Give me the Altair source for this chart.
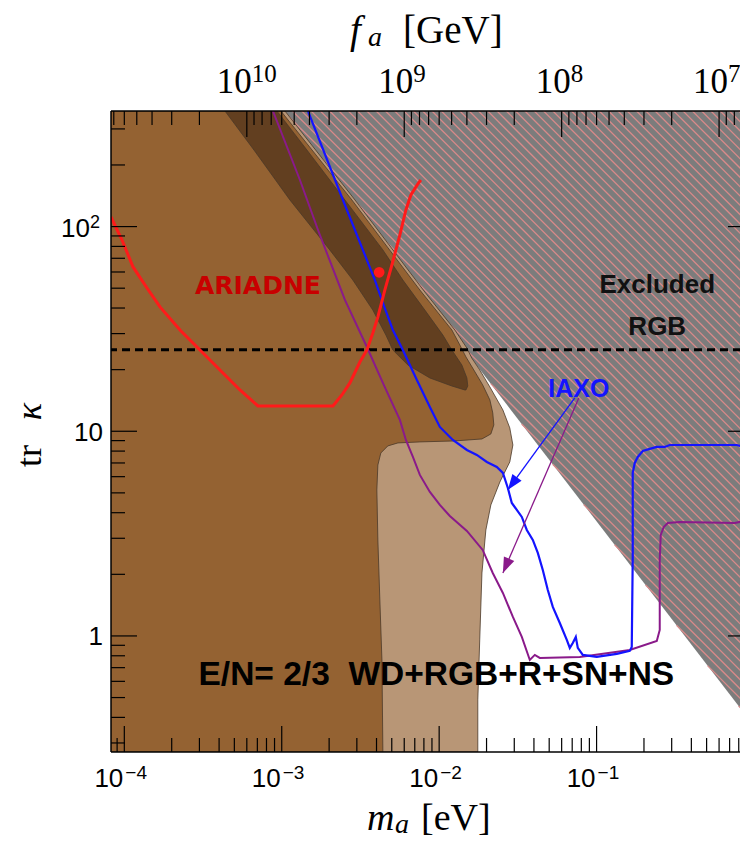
import altair as alt
import numpy as np
import pandas as pd

# ---------------- axis ranges ----------------
M_MIN, M_MAX = 8.23e-5, 1.0          # m_a [eV]
K_MIN, K_MAX = 0.271, 367.0          # tr kappa
FA_TIMES_MA = 6.0e6                  # f_a [GeV] * m_a [eV]
W, H = 643, 641

# ---------------- excluded (RGB) hatched region: tr k * m_a > HATCH_C ----------------
HATCH_C = 0.363

# ---------------- hint regions (E/N = 2/3) ----------------
light_k = [367, 134.9, 47.9, 31.25, 25.5, 22.8, 19.93, 16.46, 12.71, 10.38, 8.57, 7.08,
           5.65, 4.365, 3.295, 2.031, 0.956, 0.487, 0.271]
light_m = [1.048e-3, 2.92e-3, 8.11e-3, 1.258e-2, 1.50e-2, 1.61e-2, 1.81e-2, 2.10e-2, 2.54e-2,
           2.81e-2, 2.94e-2, 2.81e-2, 2.43e-2, 2.13e-2, 1.98e-2, 1.87e-2, 1.81e-2, 1.76e-2, 1.76e-2]

mid_k = [367, 134.9, 49.0, 31.25, 26.4, 23.07, 19.93, 16.84, 14.22, 12.29, 10.74, 9.70, 9.17,
         8.97, 8.87, 8.77, 8.48, 7.83, 6.84, 5.17, 2.944, 1.499, 0.763, 0.271]
mid_m = [9.88e-4, 2.79e-3, 7.54e-3, 1.204e-2, 1.353e-2, 1.48e-2, 1.66e-2, 1.89e-2, 2.10e-2,
         2.19e-2, 2.225e-2, 2.13e-2, 1.87e-2, 1.258e-2, 7.54e-3, 5.47e-3, 4.72e-3, 4.26e-3,
         4.08e-3, 4.02e-3, 4.08e-3, 4.20e-3, 4.33e-3, 4.39e-3]

dark_k = [367, 236.7, 134.9, 76.9, 54.8, 39.1, 29.5, 24.95, 21.08, 18.21, 16.64, 15.91]
dark_lo = [4.36e-4, 6.66e-4, 1.127e-3, 2.02e-3, 2.83e-3, 3.79e-3, 4.59e-3, 5.08e-3, 6.33e-3,
           8.73e-3, 1.204e-2, 1.456e-2]
dark_hi = [9.32e-4, 1.445e-3, 2.52e-3, 4.39e-3, 5.88e-3, 8.11e-3, 1.056e-2, 1.204e-2, 1.393e-2,
           1.50e-2, 1.52e-2, 1.48e-2]

# ---------------- curves ----------------
ariadne_m = [8.23e-5, 9.67e-5, 1.136e-4, 1.393e-4, 1.685e-4, 2.258e-4, 3.025e-4, 4.051e-4,
             5.428e-4, 7.063e-4, 2.114e-3, 2.411e-3, 2.710e-3, 3.137e-3, 3.475e-3, 3.79e-3,
             4.08e-3, 4.520e-3, 5.008e-3, 5.630e-3, 6.147e-3, 6.613e-3, 7.325e-3, 7.653e-3]
ariadne_k = [111.4, 86.0, 63.5, 50.1, 40.5, 31.25, 24.95, 19.93, 15.91, 13.29, 13.29, 15.04,
             17.22, 21.80, 24.95, 30.21, 36.17, 49.0, 64.9, 91.0, 120.5, 142.7, 161.5, 168.9]

iaxo_m = [1.467e-3, 2.52e-3, 3.906e-3, 4.39e-3, 5.08e-3, 5.88e-3, 7.22e-3, 8.73e-3, 1.010e-2,
          1.222e-2, 1.50e-2, 1.735e-2, 2.009e-2, 2.324e-2, 2.54e-2, 2.731e-2, 2.894e-2,
          3.113e-2, 3.350e-2, 3.604e-2, 3.935e-2, 4.233e-2, 4.553e-2, 4.900e-2, 5.271e-2,
          5.840e-2, 6.468e-2, 6.758e-2, 7.061e-2, 7.378e-2, 7.597e-2, 8.174e-2, 0.1003, 0.1344,
          0.1625, 0.1673, 0.1697, 0.1697, 0.1748, 0.1827, 0.1965, 0.2177, 0.2412, 0.2710,
          0.2917, 0.4521, 0.7767, 0.8730, 0.99]
iaxo_k = [367, 127.5, 54.8, 42.4, 31.25, 24.95, 17.81, 13.14, 10.50, 9.07, 8.10, 7.66, 7.08,
          6.69, 6.26, 5.28, 4.464, 4.126, 3.814, 3.295, 2.944, 2.544, 2.101, 1.677, 1.386,
          1.157, 0.956, 0.874, 0.924, 0.989, 0.874, 0.808, 0.790, 0.817, 0.845, 0.884, 2.432,
          6.26, 7.00, 7.49, 8.01, 8.20, 8.38, 8.38, 8.57, 8.57, 8.57, 8.38, 8.29]

iaxo2_m = [8.79e-4, 1.305e-3, 1.70e-3, 2.52e-3, 3.475e-3, 4.39e-3, 5.63e-3, 6.147e-3, 6.81e-3,
           7.54e-3, 8.73e-3, 1.010e-2, 1.169e-2, 1.50e-2, 1.89e-2, 2.19e-2, 2.54e-2, 2.94e-2,
           3.35e-2, 3.766e-2, 4.051e-2, 4.358e-2, 7.822e-2, 0.1625, 0.2412, 0.2519, 0.2519,
           0.2556, 0.2671, 0.2831, 0.3375, 0.7543, 0.873, 0.99]
iaxo2_k = [367, 168.9, 96.2, 43.8, 25.8, 17.22, 11.36, 9.07, 7.49, 6.12, 5.053, 4.365, 3.857,
           3.258, 2.631, 2.031, 1.622, 1.238, 0.989, 0.763, 0.808, 0.781, 0.790, 0.854, 0.945,
           1.070, 2.351, 3.114, 3.408, 3.565, 3.606, 3.565, 3.647, 3.606]

rgb_bound_k = 25.0
dot_m, dot_k = [4.159e-3], [59.8]

# arrows from the IAXO label
arrow_m0 = [7.27e-2, 7.71e-2]
arrow_k0 = [14.54, 14.54]
arrow_m1 = [2.731e-2, 2.54e-2]
arrow_k1 = [5.17, 2.031]
arrow_col = ["#1414ff", "#8a1a8a"]
arrow_ang = [216.0, 203.5]

# labels
NB = "\u00a0"
lab_text = ["ARIADNE", "Excluded", "RGB", "IAXO", "E/N=" + NB + "2/3" + NB + NB + "WD+RGB+R+SN+NS"]
lab_m = [7.06e-4, 0.2429, 0.2429, 7.71e-2, 9.60e-3]
lab_k = [51.0, 51.8, 32.3, 16.09, 0.645]

# ticks
x_major = [1e-4, 1e-3, 1e-2, 1e-1, 1.0]
x_minor = [j * 10.0 ** e for e in range(-5, 0) for j in range(2, 10)]
x_lab_exp = ["\u22124", "\u22123", "\u22122", "\u22121"]
y_major = [1.0, 10.0, 100.0]
y_minor = [j * 10.0 ** e for e in range(-1, 3) for j in range(2, 10)]
f_major = [1e10, 1e9, 1e8, 1e7]
f_minor = [j * 10.0 ** e for e in range(6, 11) for j in range(2, 10)]

# ---------------- helpers ----------------
XS = alt.Scale(type="log", domain=[M_MIN, M_MAX])
YS = alt.Scale(type="log", domain=[K_MIN, K_MAX])


def X(f="m"):
    return alt.X(f"{f}:Q", scale=XS, axis=None)


def Y(f="k"):
    return alt.Y(f"{f}:Q", scale=YS, axis=None)


def inside(vals, lo, hi):
    return [v for v in vals if lo <= v <= hi]


one = pd.DataFrame({"a": [0]})
layers = []

# gray excluded triangle
gray_df = pd.DataFrame({"m": [HATCH_C / 600.0, 2.0], "k": [600.0, HATCH_C / 2.0], "k2": [600.0, 600.0]})
layers.append(alt.Chart(gray_df).mark_area(color="#7c7c7c", clip=True).encode(
    x=X(), y=Y(), y2=alt.Y2("k2:Q")))

# hatch stripes (45 deg in screen space), clipped to the triangle
px_per_dec_x = W / (np.log10(M_MAX) - np.log10(M_MIN))
px_per_dec_y = H / (np.log10(K_MAX) - np.log10(K_MIN))
p = -px_per_dec_x / px_per_dec_y
Lc = np.log10(HATCH_C)
db = abs(p) * (9.3 / px_per_dec_x)
rows = []
for s, b in enumerate(np.arange(Lc + db * 0.5, np.log10(K_MAX) + 0.05, db)):
    L0 = (Lc - b) / (1 + p)
    L1 = 0.3
    rows.append({"s": s, "m": 10 ** L0, "k": 10 ** (b + p * L0)})
    rows.append({"s": s, "m": 10 ** L1, "k": 10 ** (b + p * L1)})
stripes = pd.DataFrame(rows)
layers.append(alt.Chart(stripes).mark_line(color="#d98a8a", strokeWidth=1.3, clip=True).encode(
    x=X(), y=Y(), detail="s:N"))

EDGE = "#4a3828"
light_df = pd.DataFrame({"k": light_k, "m0": [4e-5] * len(light_k), "m1": light_m})
layers.append(alt.Chart(light_df).mark_area(orient="horizontal", fill="#b89676", stroke=EDGE,
                                            strokeWidth=0.8, clip=True).encode(
    y=Y(), x=X("m0"), x2=alt.X2("m1:Q")))
mid_df = pd.DataFrame({"k": mid_k, "m0": [4e-5] * len(mid_k), "m1": mid_m})
layers.append(alt.Chart(mid_df).mark_area(orient="horizontal", fill="#946232", stroke=EDGE,
                                          strokeWidth=0.8, clip=True).encode(
    y=Y(), x=X("m0"), x2=alt.X2("m1:Q")))
dark_df = pd.DataFrame({"k": dark_k, "m0": dark_lo, "m1": dark_hi})
layers.append(alt.Chart(dark_df).mark_area(orient="horizontal", fill="#623f20", stroke=EDGE,
                                           strokeWidth=0.8, clip=True).encode(
    y=Y(), x=X("m0"), x2=alt.X2("m1:Q")))

# RGB bound dashed line
layers.append(alt.Chart(pd.DataFrame({"k": [rgb_bound_k]})).mark_rule(
    color="black", strokeWidth=3, strokeDash=[8, 5]).encode(y=Y()))


def curve(ms, ks, color, width):
    assert len(ms) == len(ks)
    d = pd.DataFrame({"m": ms, "k": ks, "i": range(len(ms))})
    return alt.Chart(d).mark_line(color=color, strokeWidth=width, clip=True).encode(
        x=X(), y=Y(), order="i:Q")


layers.append(curve(iaxo2_m, iaxo2_k, "#8a1a8a", 2.0))
layers.append(curve(iaxo_m, iaxo_k, "#1414ff", 2.2))
layers.append(curve(ariadne_m, ariadne_k, "#ff1a1a", 3.0))

arr_df = pd.DataFrame({"m0": arrow_m0, "k0": arrow_k0, "m1": arrow_m1, "k1": arrow_k1,
                       "c": arrow_col, "ang": arrow_ang})
layers.append(alt.Chart(arr_df).mark_rule(strokeWidth=1.3).encode(
    x=X("m0"), y=Y("k0"), x2=alt.X2("m1:Q"), y2=alt.Y2("k1:Q"), color=alt.Color("c:N", scale=None)))
layers.append(alt.Chart(arr_df).mark_point(shape="M0,0L0.4,1.1L-0.4,1.1Z", filled=True, size=800,
                                           opacity=1, strokeWidth=0).encode(
    x=X("m1"), y=Y("k1"), angle=alt.Angle("ang:Q", scale=None), color=alt.Color("c:N", scale=None)))

layers.append(alt.Chart(pd.DataFrame({"m": dot_m, "k": dot_k})).mark_circle(
    size=115, color="#ff1a1a", opacity=1).encode(x=X(), y=Y()))

# text labels
lab_font = ["DejaVu Sans", "Liberation Sans", "Liberation Sans", "Liberation Sans", "Liberation Sans"]
lab_size = [25, 26, 26, 25, 33.5]
lab_color = ["#c80000", "#111111", "#111111", "#1414ff", "#000000"]
for t, m, k, fnt, sz, col in zip(lab_text, lab_m, lab_k, lab_font, lab_size, lab_color):
    layers.append(alt.Chart(pd.DataFrame({"m": [m], "k": [k], "t": [t]})).mark_text(
        font=fnt, fontSize=sz, fontWeight="bold", color=col, align="center", baseline="middle").encode(
        x=X(), y=Y(), text="t:N"))

# ticks
TK = dict(color="black", strokeWidth=1.2)
xmaj = pd.DataFrame({"m": inside(x_major, M_MIN, M_MAX)})
xmin_ = pd.DataFrame({"m": inside(x_minor, M_MIN, M_MAX)})
fmaj = pd.DataFrame({"m": [FA_TIMES_MA / f for f in f_major]})
fmin_ = pd.DataFrame({"m": inside([FA_TIMES_MA / f for f in f_minor], M_MIN, M_MAX)})
ymaj = pd.DataFrame({"k": y_major})
ymin_ = pd.DataFrame({"k": inside(y_minor, K_MIN, K_MAX)})
layers += [
    alt.Chart(xmaj).mark_rule(**TK).encode(x=X(), y=alt.value(H), y2=alt.value(H - 26)),
    alt.Chart(xmin_).mark_rule(**TK).encode(x=X(), y=alt.value(H), y2=alt.value(H - 14)),
    alt.Chart(fmaj).mark_rule(**TK).encode(x=X(), y=alt.value(0), y2=alt.value(26)),
    alt.Chart(fmin_).mark_rule(**TK).encode(x=X(), y=alt.value(0), y2=alt.value(14)),
    alt.Chart(ymaj).mark_rule(**TK).encode(y=Y(), x=alt.value(0), x2=alt.value(26)),
    alt.Chart(ymin_).mark_rule(**TK).encode(y=Y(), x=alt.value(0), x2=alt.value(14)),
    alt.Chart(ymaj).mark_rule(**TK).encode(y=Y(), x=alt.value(W), x2=alt.value(W - 26)),
    alt.Chart(ymin_).mark_rule(**TK).encode(y=Y(), x=alt.value(W), x2=alt.value(W - 14)),
]

# frame
FR = dict(color="black", strokeWidth=1.5)
layers += [
    alt.Chart(one).mark_rule(**FR).encode(x=alt.value(0), x2=alt.value(W), y=alt.value(0)),
    alt.Chart(one).mark_rule(**FR).encode(x=alt.value(0), x2=alt.value(W), y=alt.value(H)),
    alt.Chart(one).mark_rule(**FR).encode(x=alt.value(0), y=alt.value(0), y2=alt.value(H)),
]

# bottom tick labels
bl = pd.DataFrame({"m": x_major[:4], "b": ["10"] * 4, "e": x_lab_exp})
layers += [
    alt.Chart(bl).mark_text(font="Liberation Sans", fontSize=26, align="right", dx=-1,
                            baseline="alphabetic", color="black").encode(x=X(), y=alt.value(H + 35), text="b:N"),
    alt.Chart(bl).mark_text(font="Liberation Sans", fontSize=19, align="left", dx=1,
                            baseline="alphabetic", color="black").encode(x=X(), y=alt.value(H + 27), text="e:N"),
]
# left tick labels
ll = pd.DataFrame({"k": [1.0, 10.0], "t": ["1", "10"]})
l2 = pd.DataFrame({"k": [100.0], "b": ["10"], "e": ["2"]})
layers += [
    alt.Chart(ll).mark_text(font="Liberation Sans", fontSize=26, align="right", dy=9.5,
                            baseline="alphabetic", color="black").encode(x=alt.value(-8), y=Y(), text="t:N"),
    alt.Chart(l2).mark_text(font="Liberation Sans", fontSize=26, align="right", dy=10.3,
                            baseline="alphabetic", color="black").encode(x=alt.value(-21), y=Y(), text="b:N"),
    alt.Chart(l2).mark_text(font="Liberation Sans", fontSize=18, align="left", dy=1.5,
                            baseline="alphabetic", color="black").encode(x=alt.value(-21), y=Y(), text="e:N"),
]
# top tick labels (f_a)
t1 = pd.DataFrame({"m": [FA_TIMES_MA / f_major[0]], "b": ["10"], "e": ["10"]})
t2 = pd.DataFrame({"m": [FA_TIMES_MA / f for f in f_major[1:]], "b": ["10"] * 3, "e": ["9", "8", "7"]})
for d, off in ((t1, 5), (t2, 9)):
    layers += [
        alt.Chart(d).mark_text(font="Liberation Serif", fontSize=35, align="right", dx=off,
                               baseline="alphabetic", color="black").encode(x=X(), y=alt.value(-18), text="b:N"),
        alt.Chart(d).mark_text(font="Liberation Serif", fontSize=25, align="left", dx=off,
                               baseline="alphabetic", color="black").encode(x=X(), y=alt.value(-29), text="e:N"),
    ]


# axis titles
def txt(t, x, y, size, style="normal", angle=0, align="left", baseline="alphabetic"):
    return alt.Chart(pd.DataFrame({"t": [t]})).mark_text(
        font="Liberation Serif", fontSize=size, fontStyle=style, angle=angle, align=align,
        baseline=baseline, color="black").encode(x=alt.value(x), y=alt.value(y), text="t:N")


layers += [
    txt("f", 239, -68, 39, "italic"),
    txt("a", 257, -65, 28, "italic"),
    txt("[GeV]", 292, -68, 39),
    txt("m", 256, 719, 38, "italic"),
    txt("a", 284, 722, 28, "italic"),
    txt("[eV]", 310, 719, 38),
    txt("tr", -70, 356, 36, angle=270, align="left"),
    txt("κ", -70, 292, 36, "italic", angle=270, align="right"),
]

chart = alt.layer(*layers).properties(
    width=W, height=H,
    padding={"left": 103, "top": 103, "right": -14, "bottom": 88},
    autosize=alt.AutoSizeParams(type="none"),
    background="white",
).configure_view(stroke=None)

chart.save("out.html", embed_options={"renderer": "svg", "actions": False})
